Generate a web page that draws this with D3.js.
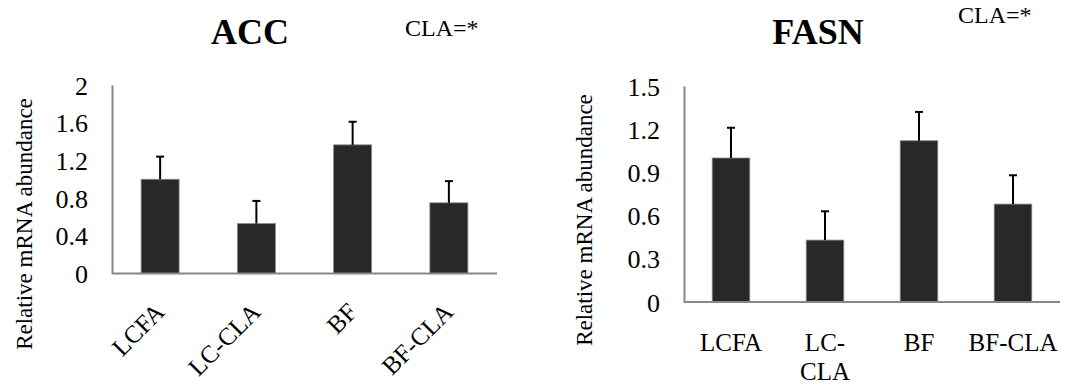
<!DOCTYPE html>
<html>
<head>
<meta charset="utf-8">
<script src="https://cdn.jsdelivr.net/npm/d3@7"></script>
<style>
  body { margin: 0; background: #fff; }
  text { font-family: "Liberation Serif", "Times New Roman", serif; fill: #000; }
</style>
</head>
<body>
<div id="chart-area"></div>
<script>
// data
const groups = ["LCFA", "LC-CLA", "BF", "BF-CLA"]
const accMean = [1.0, 0.53, 1.365, 0.75]
const accErr = [0.24, 0.24, 0.245, 0.23]
const accTicks = [0, 0.4, 0.8, 1.2, 1.6, 2]
const fasnMean = [1.0, 0.43, 1.12, 0.68]
const fasnErr = [0.21, 0.2, 0.2, 0.2]
const fasnTicks = [0, 0.3, 0.6, 0.9, 1.2, 1.5]

const svg = d3.select("#chart-area")
    .append("svg")
    .attr("width", 1076)
    .attr("height", 387)

function drawPanel(opt) {
    const g = svg.append("g")

    const x = d3.scaleBand()
        .domain(groups)
        .range([opt.x0, opt.x1])
        .paddingInner(opt.pad)
        .paddingOuter(opt.pad / 2)

    const y = d3.scaleLinear()
        .domain([0, d3.max(opt.ticks)])
        .range([opt.y0, opt.y1])

    // y axis
    const yAxisCall = d3.axisLeft(y)
        .tickValues(opt.ticks)
        .tickSize(0)
        .tickPadding(opt.x0 - opt.tickRight)
        .tickFormat(d => d3.format("")(+d.toFixed(1)))
    const ya = g.append("g")
        .attr("transform", `translate(${opt.x0}, 0)`)
        .call(yAxisCall)
    ya.select(".domain").attr("stroke", "#868686").attr("stroke-width", 2)
    ya.selectAll("text")
        .attr("font-size", "26px")
        .attr("font-family", "Liberation Serif")
        .attr("dy", "0.35em")

    // bars
    g.selectAll("rect.bar")
        .data(groups)
        .enter().append("rect")
        .attr("class", "bar")
        .attr("x", d => x(d))
        .attr("y", (d, i) => y(opt.mean[i]))
        .attr("width", x.bandwidth())
        .attr("height", (d, i) => opt.y0 - y(opt.mean[i]))
        .attr("fill", "#282828")
        .attr("stroke", "#8a8a8a")
        .attr("stroke-width", 0.8)

    // error bars
    const eb = g.selectAll("g.err")
        .data(groups)
        .enter().append("g")
        .attr("class", "err")
    eb.append("line")
        .attr("x1", d => x(d) + x.bandwidth() / 2)
        .attr("x2", d => x(d) + x.bandwidth() / 2)
        .attr("y1", (d, i) => y(opt.mean[i]))
        .attr("y2", (d, i) => y(opt.mean[i] + opt.err[i]))
        .attr("stroke", "#000")
        .attr("stroke-width", 2)
    eb.append("line")
        .attr("x1", d => x(d) + x.bandwidth() / 2 - 4)
        .attr("x2", d => x(d) + x.bandwidth() / 2 + 4)
        .attr("y1", (d, i) => y(opt.mean[i] + opt.err[i]))
        .attr("y2", (d, i) => y(opt.mean[i] + opt.err[i]))
        .attr("stroke", "#000")
        .attr("stroke-width", 2)

    // x axis line
    g.append("line")
        .attr("x1", opt.x0)
        .attr("x2", opt.x1)
        .attr("y1", opt.y0)
        .attr("y2", opt.y0)
        .attr("stroke", "#868686")
        .attr("stroke-width", 2)

    // x labels
    if (opt.rotated) {
        g.selectAll("text.xl")
            .data(groups)
            .enter().append("text")
            .attr("class", "xl")
            .attr("font-size", "25px")
            .attr("text-anchor", "end")
            .attr("transform", d => `translate(${x(d) + x.bandwidth() / 2 + 6}, ${opt.y0 + 40}) rotate(-45)`)
            .text(d => d)
    } else {
        const xl = g.selectAll("text.xl")
            .data(groups)
            .enter().append("text")
            .attr("class", "xl")
            .attr("font-size", "25px")
            .attr("text-anchor", "middle")
            .attr("x", d => x(d) + x.bandwidth() / 2)
            .attr("y", opt.y0 + 49)
        xl.each(function(d) {
            const lines = d === "LC-CLA" ? ["LC-", "CLA"] : [d]
            d3.select(this).selectAll("tspan")
                .data(lines)
                .enter().append("tspan")
                .attr("x", x(d) + x.bandwidth() / 2)
                .attr("dy", (l, j) => j === 0 ? 0 : 29)
                .text(l => l)
        })
    }

    // y label
    g.append("text")
        .attr("font-size", "23px")
        .attr("text-anchor", "middle")
        .attr("transform", `translate(${opt.labelX}, ${opt.labelY}) rotate(-90)`)
        .text("Relative mRNA abundance")

    // title
    g.append("text")
        .attr("x", opt.titleX)
        .attr("y", 44)
        .attr("font-size", "36px")
        .attr("font-weight", "bold")
        .attr("text-anchor", "middle")
        .text(opt.title)

    g.append("text")
        .attr("x", opt.noteX)
        .attr("y", opt.noteY)
        .attr("font-size", "24px")
        .text("CLA=*")
}

drawPanel({
    title: "ACC", mean: accMean, err: accErr, ticks: accTicks,
    x0: 112, x1: 497, y0: 273.5, y1: 85, pad: 0.605, tickRight: 88,
    rotated: true, labelX: 32, labelY: 224, titleX: 250,
    noteX: 405, noteY: 36
})

drawPanel({
    title: "FASN", mean: fasnMean, err: fasnErr, ticks: fasnTicks,
    x0: 684, x1: 1060, y0: 302, y1: 86, pad: 0.6, tickRight: 660,
    rotated: false, labelX: 592, labelY: 220, titleX: 818,
    noteX: 958, noteY: 23
})
</script>
</body>
</html>
